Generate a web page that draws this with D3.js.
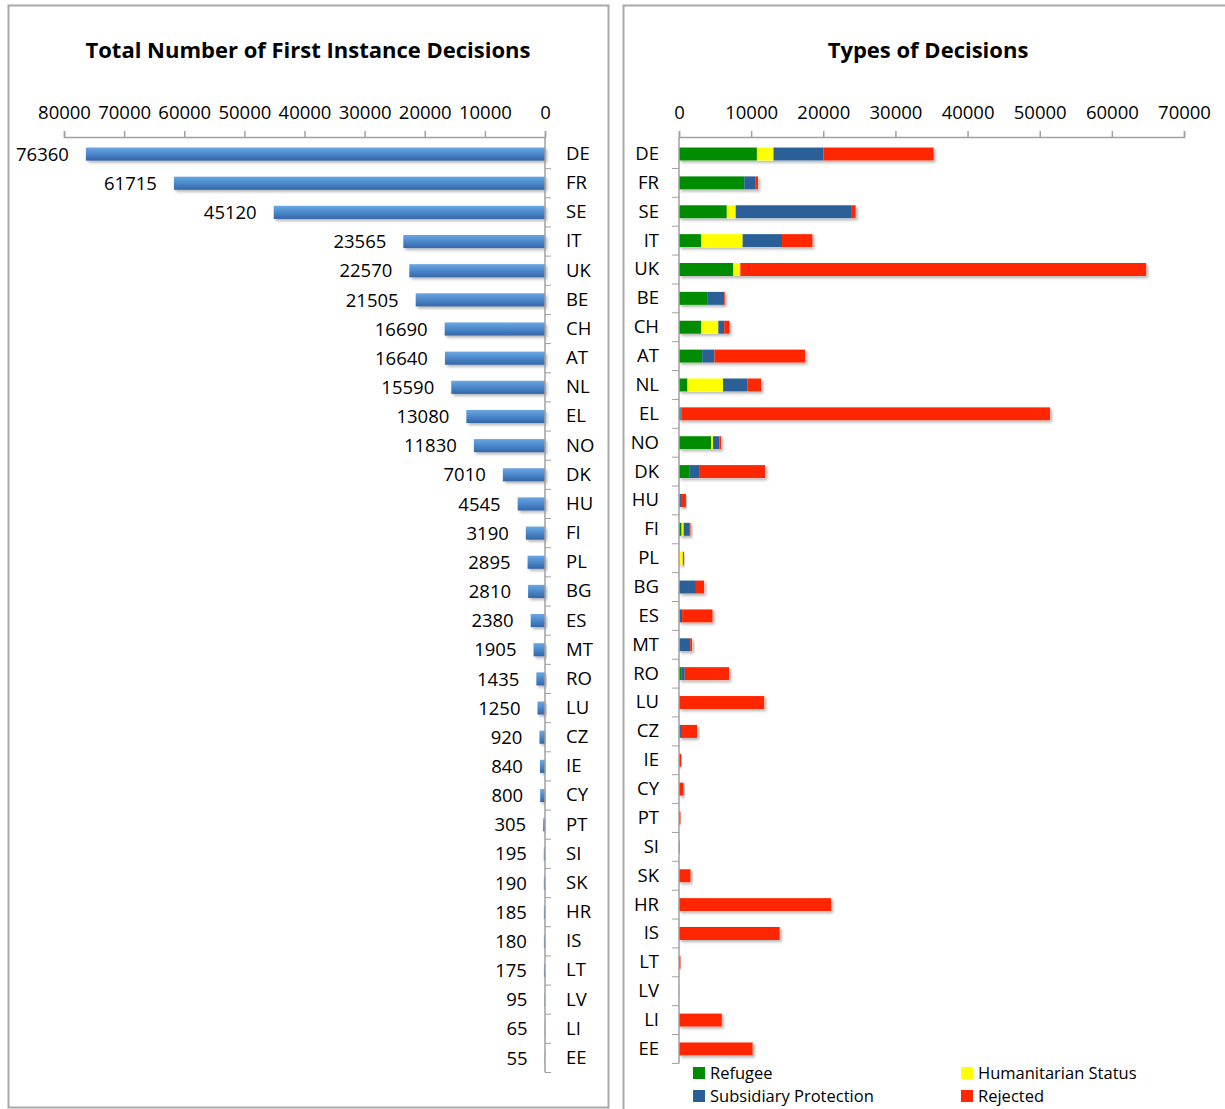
<!DOCTYPE html>
<html>
<head>
<meta charset="utf-8">
<script src="https://cdn.jsdelivr.net/npm/d3@7"></script>
<style>
  body { margin: 0; background: #fff; }
  text { font-family: "Open Sans", sans-serif; fill: #000; }
</style>
</head>
<body>
<svg width="1225" height="1109"></svg>
<script>
// Countries, ordered as in the charts
var countries = ["DE","FR","SE","IT","UK","BE","CH","AT","NL","EL","NO","DK","HU","FI","PL","BG",
  "ES","MT","RO","LU","CZ","IE","CY","PT","SI","SK","HR","IS","LT","LV","LI","EE"];

// Total number of first instance decisions
var totals = [76360,61715,45120,23565,22570,21505,16690,16640,15590,13080,11830,7010,4545,3190,2895,2810,
  2380,1905,1435,1250,920,840,800,305,195,190,185,180,175,95,65,55];

// Types of decisions
var refugee      = [10800,9040,6630,3050,7490,3900,3050,3210,1180,200,4440,1500,100,370,50,0,
  50,50,300,0,50,0,0,0,0,0,0,0,0,0,0,0];
var humanitarian = [2300,0,1230,5770,1010,0,2400,0,4920,0,270,0,0,270,480,0,
  0,0,0,0,0,0,0,0,0,0,0,0,0,0,0,0];
var subsidiary   = [6950,1600,16100,5460,0,2360,810,1710,3420,170,900,1280,170,860,0,2350,
  380,1500,500,0,220,0,0,0,0,0,0,0,0,0,0,0];
var rejected     = [15250,320,530,4220,56260,100,740,12570,1870,51070,220,9150,690,100,170,1130,
  4220,270,6150,11820,2240,320,640,210,100,1600,21070,13960,210,30,5940,10210];

var leftTicks = [0,10000,20000,30000,40000,50000,60000,70000,80000];
var rightTicks = [0,10000,20000,30000,40000,50000,60000,70000];

var seriesKeys = ["Refugee","Humanitarian Status","Subsidiary Protection","Rejected"];
var seriesColors = ["#008c00","#ffff00","#2b5f98","#ff2600"];

var svg = d3.select("svg");
var axisColor = "#a0a0a0";

// panel frames
svg.append("rect").attr("x",8.5).attr("y",5.5).attr("width",600).attr("height",1102)
  .attr("fill","none").attr("stroke","#a8a8a8").attr("stroke-width",2);
svg.append("rect").attr("x",623.5).attr("y",5.5).attr("width",700).attr("height",1200)
  .attr("fill","none").attr("stroke","#a8a8a8").attr("stroke-width",2);

var defs = svg.append("defs");
var grad = defs.append("linearGradient").attr("id","blueGrad")
  .attr("x1",0).attr("y1",0).attr("x2",0).attr("y2",1);
grad.append("stop").attr("offset","0%").attr("stop-color","#6ca6e2");
grad.append("stop").attr("offset","50%").attr("stop-color","#4a88cc");
grad.append("stop").attr("offset","100%").attr("stop-color","#3466a6");
defs.append("filter").attr("id","shadow").attr("x","-5%").attr("y","-50%").attr("width","120%").attr("height","250%")
  .append("feDropShadow").attr("dx",2).attr("dy",2).attr("stdDeviation",1.5)
  .attr("flood-color","#000").attr("flood-opacity",0.3);

// ---------- Left chart ----------
svg.append("text").attr("x",308).attr("y",58).attr("text-anchor","middle")
  .style("font-weight","bold").style("font-size","22px")
  .text("Total Number of First Instance Decisions");

var xL = d3.scaleLinear().domain([0,80000]).range([545,64]);
var yL = d3.scaleBand().domain(countries).range([139.5,1072.5]).paddingInner(0.55).paddingOuter(0.275);

var gxL = svg.append("g").attr("transform","translate(0,137)")
  .call(d3.axisTop(xL).tickValues(leftTicks).tickSize(6).tickPadding(12).tickFormat(d3.format("d")));
gxL.selectAll("text").style("font-size","18.5px");

svg.append("g").selectAll("rect").data(countries).enter().append("rect")
  .attr("x", function(d,i){ return xL(totals[i]); })
  .attr("y", function(d){ return yL(d); })
  .attr("width", function(d,i){ return xL(0) - xL(totals[i]); })
  .attr("height", yL.bandwidth())
  .attr("fill","url(#blueGrad)")
  .attr("filter","url(#shadow)");

svg.append("g").selectAll("text").data(countries).enter().append("text")
  .attr("x", function(d,i){ return xL(totals[i]) - 17; })
  .attr("y", function(d){ return yL(d) + yL.bandwidth()/2; })
  .attr("dy","0.36em").attr("text-anchor","end").style("font-size","18.5px")
  .text(function(d,i){ return totals[i]; });

var gyL = svg.append("g").attr("transform","translate(545,0)")
  .call(d3.axisRight(yL).tickSize(0).tickPadding(21));
gyL.selectAll("text").style("font-size","18.5px");
gyL.select(".domain").attr("d","M0,137V1072.5");
gyL.append("g").selectAll("line").data(countries).enter().append("line")
  .attr("x1",0).attr("x2",6)
  .attr("y1", function(d){ return yL(d) + yL.bandwidth()/2 + yL.step()/2; })
  .attr("y2", function(d){ return yL(d) + yL.bandwidth()/2 + yL.step()/2; })
  .attr("stroke",axisColor);

// ---------- Right chart ----------
svg.append("text").attr("x",928).attr("y",58).attr("text-anchor","middle")
  .style("font-weight","bold").style("font-size","22px")
  .text("Types of Decisions");

var xR = d3.scaleLinear().domain([0,70000]).range([679,1184]);
var yR = d3.scaleBand().domain(countries).range([139.6,1063.4]).paddingInner(0.55).paddingOuter(0.275);

var gxR = svg.append("g").attr("transform","translate(0,137)")
  .call(d3.axisTop(xR).tickValues(rightTicks).tickSize(6).tickPadding(12).tickFormat(d3.format("d")));
gxR.selectAll("text").style("font-size","18.5px");

var rows = countries.map(function(c,i){
  return {country:c, "Refugee":refugee[i], "Humanitarian Status":humanitarian[i],
    "Subsidiary Protection":subsidiary[i], "Rejected":rejected[i]};
});
var stacked = d3.stack().keys(seriesKeys)(rows);

var barsR = svg.append("g");
barsR.selectAll("g.shadowrow").data(rows).enter().append("rect")
  .attr("x", xR(0))
  .attr("y", function(d){ return yR(d.country); })
  .attr("width", function(d){ return xR(d3.sum(seriesKeys, function(k){ return d[k]; })) - xR(0); })
  .attr("height", yR.bandwidth())
  .attr("fill","#fff").attr("filter","url(#shadow)");
barsR.selectAll("g.series").data(stacked).enter().append("g")
  .attr("fill", function(d,i){ return seriesColors[i]; })
  .selectAll("rect").data(function(d){ return d; }).enter().append("rect")
  .attr("x", function(d){ return xR(d[0]); })
  .attr("y", function(d){ return yR(d.data.country); })
  .attr("width", function(d){ return xR(d[1]) - xR(d[0]); })
  .attr("height", yR.bandwidth());

var gyR = svg.append("g").attr("transform","translate(679,0)")
  .call(d3.axisLeft(yR).tickSize(0).tickPadding(20));
gyR.selectAll("text").style("font-size","18.5px");
gyR.select(".domain").attr("d","M0,137V1063.4");
gyR.append("g").selectAll("line").data(countries).enter().append("line")
  .attr("x1",-7).attr("x2",0)
  .attr("y1", function(d){ return yR(d) + yR.bandwidth()/2 + yR.step()/2; })
  .attr("y2", function(d){ return yR(d) + yR.bandwidth()/2 + yR.step()/2; })
  .attr("stroke",axisColor);

// axis styling
svg.selectAll(".domain").attr("stroke",axisColor).attr("stroke-width",1.5);
svg.selectAll(".tick line").attr("stroke",axisColor).attr("stroke-width",1.5);
svg.selectAll(".tick text").attr("fill","#000");

// legend
var legendPos = [[693,1067],[961,1067],[693,1090],[961,1090]];
var legendOrder = [0,1,2,3];
var lg = svg.append("g").selectAll("g").data(legendOrder).enter().append("g")
  .attr("transform", function(d,i){ return "translate(" + legendPos[i][0] + "," + legendPos[i][1] + ")"; });
lg.append("rect").attr("width",12).attr("height",12).attr("fill", function(d){ return seriesColors[d]; });
lg.append("text").attr("x",17).attr("y",6).attr("dy","0.36em").style("font-size","16.5px")
  .text(function(d){ return seriesKeys[d]; });
</script>
</body>
</html>
